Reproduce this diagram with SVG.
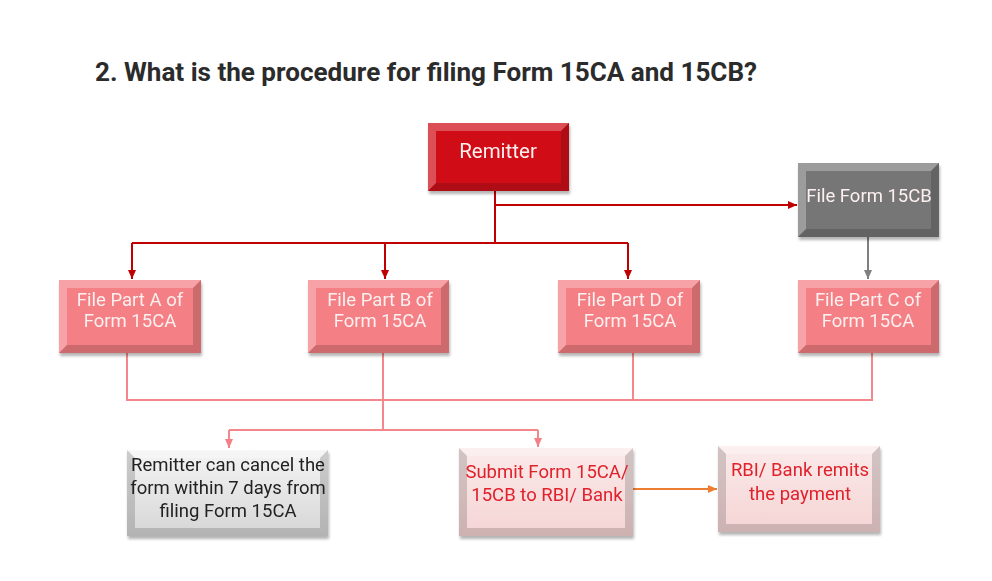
<svg xmlns="http://www.w3.org/2000/svg" width="992" height="581" viewBox="0 0 992 581">
<defs>
<filter id="sh" x="-10%" y="-10%" width="125%" height="130%">
<feGaussianBlur in="SourceAlpha" stdDeviation="1.5"/>
<feOffset dx="1" dy="3" result="o"/>
<feComponentTransfer><feFuncA type="linear" slope="0.3"/></feComponentTransfer>
<feMerge><feMergeNode/><feMergeNode in="SourceGraphic"/></feMerge>
</filter>
<linearGradient id="gGray" x1="0" y1="0" x2="0" y2="1"><stop offset="0" stop-color="#f4f4f4"/><stop offset="1" stop-color="#d6d6d6"/></linearGradient>
<linearGradient id="gPink" x1="0" y1="0" x2="0" y2="1"><stop offset="0" stop-color="#fbeaea"/><stop offset="1" stop-color="#f5d4d4"/></linearGradient>
<marker id="aRed" markerWidth="10" markerHeight="10" refX="9" refY="5" orient="auto" markerUnits="userSpaceOnUse"><path d="M0,1 L9,5 L0,9 z" fill="#c00000"/></marker>
<marker id="aGray" markerWidth="10" markerHeight="10" refX="9" refY="5" orient="auto" markerUnits="userSpaceOnUse"><path d="M0,1 L9,5 L0,9 z" fill="#7f7f7f"/></marker>
<marker id="aPink" markerWidth="10" markerHeight="10" refX="9" refY="5" orient="auto" markerUnits="userSpaceOnUse"><path d="M0,1 L9,5 L0,9 z" fill="#f47f84"/></marker>
<marker id="aOr" markerWidth="10" markerHeight="10" refX="9" refY="5" orient="auto" markerUnits="userSpaceOnUse"><path d="M0,1 L9,5 L0,9 z" fill="#ed7d31"/></marker>
</defs>
<style>
.t{font-family:Roboto,"Liberation Sans",sans-serif;text-anchor:middle}
.w{fill:#fdf0f0;font-size:18.5px}
.b{font-size:18.5px}
.lt{fill:#ffffff;opacity:0.28}
.dk{fill:#000000;opacity:0.16}
.red{stroke:#c00000;stroke-width:2;fill:none}
.pk{stroke:#f4878b;stroke-width:2;fill:none}
</style>
<rect width="992" height="581" fill="#ffffff"/>
<text x="95" y="81" font-family="Roboto,'Liberation Sans',sans-serif" font-weight="bold" font-size="26" fill="#2b2b2b" textLength="662" lengthAdjust="spacingAndGlyphs">2. What is the procedure for filing Form 15CA and 15CB?</text>

<g id="connectors">
<path class="red" d="M495,191 V243 M132,243 H628"/>
<path class="red" d="M132,243 V279" marker-end="url(#aRed)"/>
<path class="red" d="M385,243 V279" marker-end="url(#aRed)"/>
<path class="red" d="M628,243 V279" marker-end="url(#aRed)"/>
<path class="red" d="M495,205 H797" marker-end="url(#aRed)"/>
<path d="M868,237 V279" stroke="#7f7f7f" stroke-width="2" fill="none" marker-end="url(#aGray)"/>
<path class="pk" d="M127,353 V400 H872 V353 M383,353 V430 M633,353 V400 M229,430 H538"/>
<path class="pk" d="M229,430 V448" marker-end="url(#aPink)"/>
<path class="pk" d="M538,430 V447" marker-end="url(#aPink)"/>
<path d="M633,489 H717" stroke="#ed7d31" stroke-width="2" fill="none" marker-end="url(#aOr)"/>
</g>

<g id="remitter" filter="url(#sh)">
<rect x="428" y="123" width="141" height="68" fill="#d00c16"/>
<polygon class="lt" points="428,123 569,123 561,131 436,131"/>
<polygon class="lt" points="428,123 436,131 436,183 428,191" opacity="0.15"/>
<polygon class="dk" points="569,123 569,191 561,183 561,131"/>
<polygon class="dk" points="428,191 569,191 561,183 436,183"/>
<text class="t w" x="498" y="158" style="font-size:20.5px">Remitter</text>
</g>

<g id="form15cb" filter="url(#sh)">
<rect x="798" y="163" width="141" height="74" fill="#767676"/>
<polygon class="lt" points="798,163 939,163 931,171 806,171"/>
<polygon class="lt" points="798,163 806,171 806,229 798,237" opacity="0.15"/>
<polygon class="dk" points="939,163 939,237 931,229 931,171"/>
<polygon class="dk" points="798,237 939,237 931,229 806,229"/>
<text class="t w" x="869" y="202">File Form 15CB</text>
</g>

<g id="partA" filter="url(#sh)">
<rect x="59" y="280" width="142" height="73" fill="#f47f84"/>
<polygon class="lt" points="59,280 201,280 193,288 67,288"/>
<polygon class="lt" points="59,280 67,288 67,345 59,353" opacity="0.15"/>
<polygon class="dk" points="201,280 201,353 193,345 193,288"/>
<polygon class="dk" points="59,353 201,353 193,345 67,345"/>
<text class="t w" x="130" y="306">File Part A of</text>
<text class="t w" x="130" y="327">Form 15CA</text>
</g>

<g id="partB" filter="url(#sh)">
<rect x="308" y="280" width="141" height="73" fill="#f47f84"/>
<polygon class="lt" points="308,280 449,280 441,288 316,288"/>
<polygon class="lt" points="308,280 316,288 316,345 308,353" opacity="0.15"/>
<polygon class="dk" points="449,280 449,353 441,345 441,288"/>
<polygon class="dk" points="308,353 449,353 441,345 316,345"/>
<text class="t w" x="380" y="306">File Part B of</text>
<text class="t w" x="380" y="327">Form 15CA</text>
</g>

<g id="partD" filter="url(#sh)">
<rect x="558" y="280" width="142" height="73" fill="#f47f84"/>
<polygon class="lt" points="558,280 700,280 692,288 566,288"/>
<polygon class="lt" points="558,280 566,288 566,345 558,353" opacity="0.15"/>
<polygon class="dk" points="700,280 700,353 692,345 692,288"/>
<polygon class="dk" points="558,353 700,353 692,345 566,345"/>
<text class="t w" x="630" y="306">File Part D of</text>
<text class="t w" x="630" y="327">Form 15CA</text>
</g>

<g id="partC" filter="url(#sh)">
<rect x="798" y="280" width="141" height="73" fill="#f47f84"/>
<polygon class="lt" points="798,280 939,280 931,288 806,288"/>
<polygon class="lt" points="798,280 806,288 806,345 798,353" opacity="0.15"/>
<polygon class="dk" points="939,280 939,353 931,345 931,288"/>
<polygon class="dk" points="798,353 939,353 931,345 806,345"/>
<text class="t w" x="868" y="306">File Part C of</text>
<text class="t w" x="868" y="327">Form 15CA</text>
</g>

<g id="cancel" filter="url(#sh)">
<rect x="127" y="450" width="201" height="86" fill="url(#gGray)"/>
<polygon class="lt" points="127,450 328,450 320,458 135,458" opacity="0.6"/>
<polygon class="dk" points="328,450 328,536 320,528 320,458" opacity="0.08"/>
<polygon class="dk" points="127,536 328,536 320,528 135,528" opacity="0.1"/>
<polygon class="dk" points="127,450 135,458 135,528 127,536" opacity="0.05"/>
<text class="t b" x="228" y="471" fill="#222">Remitter can cancel the</text>
<text class="t b" x="228" y="494" fill="#222">form within 7 days from</text>
<text class="t b" x="228" y="517" fill="#222">filing Form 15CA</text>
</g>

<g id="submit" filter="url(#sh)">
<rect x="459" y="448" width="174" height="88" fill="url(#gPink)"/>
<polygon class="lt" points="459,448 633,448 625,456 467,456" opacity="0.6"/>
<polygon class="dk" points="633,448 633,536 625,528 625,456" opacity="0.07"/>
<polygon class="dk" points="459,536 633,536 625,528 467,528" opacity="0.09"/>
<polygon class="dk" points="459,448 467,456 467,528 459,536" opacity="0.04"/>
<text class="t b" x="547" y="478" fill="#e0202c">Submit Form 15CA/</text>
<text class="t b" x="547" y="501" fill="#e0202c">15CB to RBI/ Bank</text>
</g>

<g id="rbi" filter="url(#sh)">
<rect x="718" y="446" width="162" height="86" fill="url(#gPink)"/>
<polygon class="lt" points="718,446 880,446 872,454 726,454" opacity="0.6"/>
<polygon class="dk" points="880,446 880,532 872,524 872,454" opacity="0.07"/>
<polygon class="dk" points="718,532 880,532 872,524 726,524" opacity="0.09"/>
<polygon class="dk" points="718,446 726,454 726,524 718,532" opacity="0.04"/>
<text class="t b" x="800" y="476" fill="#e0202c">RBI/ Bank remits</text>
<text class="t b" x="800" y="500" fill="#e0202c">the payment</text>
</g>
</svg>
